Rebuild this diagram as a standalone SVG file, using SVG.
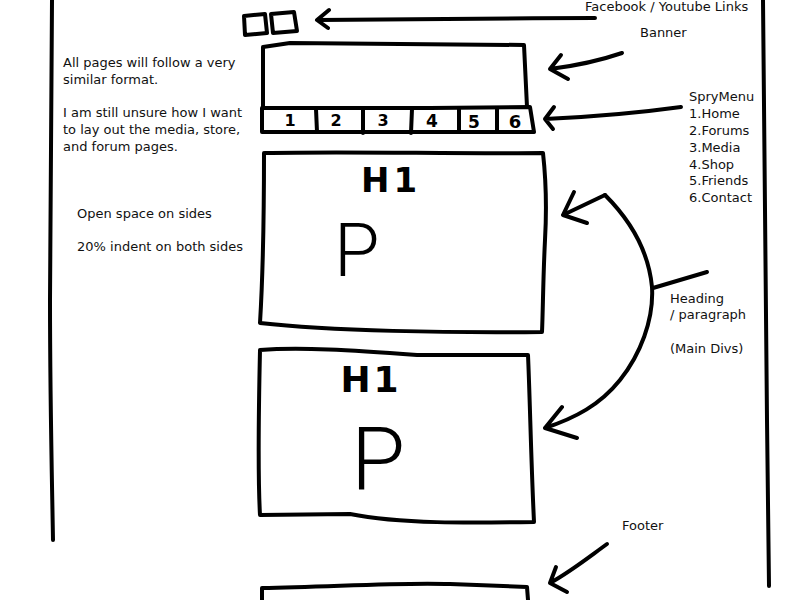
<svg xmlns="http://www.w3.org/2000/svg" width="800" height="600" viewBox="0 0 800 600">
<style>
.s{fill:none;stroke:#000;stroke-width:4;stroke-linecap:round;stroke-linejoin:round}
.t{font-family:"DejaVu Sans","Liberation Sans",sans-serif;font-size:13px;fill:#111}
.h{font-family:"DejaVu Sans","Liberation Sans",sans-serif;font-weight:bold;fill:#000}
.p{font-family:Roboto,"Liberation Sans",sans-serif;font-weight:300;fill:#000}
</style>
<rect width="800" height="600" fill="#fff"/>
<g id="page-edges">
<path class="s" d="M52,0 C51,100 50,200 50,300 C50,400 52,480 53,540"/>
<path class="s" d="M763,0 C764,150 766,300 767,420 C768,500 769,550 769,586"/>
</g>
<g id="social-icons">
<path class="s" d="M244,16 L265,14 L267,33 L245,35 Z"/>
<path class="s" d="M271,14 L294,12 L297,31 L273,33 Z"/>
</g>
<g id="banner">
<path class="s" d="M263,108 L263,47 L290,43 L524,45 L527,107"/>
</g>
<g id="menu">
<path class="s" d="M262,108 L430,108 L530,107 L534,132 L262,132 Z"/>
<path class="s" d="M316,109 L317,132 M363,108 L363,133 M412,109 L411,133 M459,108 L459,132 M497,108 L497,132"/>
<text class="h" font-size="16" x="290" y="126" text-anchor="middle">1</text>
<text class="h" font-size="16" x="336" y="126" text-anchor="middle">2</text>
<text class="h" font-size="16" x="383" y="126" text-anchor="middle">3</text>
<text class="h" font-size="17" x="432" y="127" text-anchor="middle">4</text>
<text class="h" font-size="17" x="474" y="128" text-anchor="middle">5</text>
<text class="h" font-size="18" x="515" y="128" text-anchor="middle">6</text>
</g>
<g id="main-div-1">
<path class="s" d="M265,153 C350,151 450,154 543,153 C546,180 547,205 545,240 C543,280 543,310 542,332 C450,333 330,331 260,323 C262,290 264,250 264,153"/>
<text class="h" font-size="34" x="391" y="192" text-anchor="middle" letter-spacing="4">H1</text>
<text class="p" font-size="74" x="334" y="276">P</text>
</g>
<g id="main-div-2">
<path class="s" d="M260,350 C300,347 350,350 417,355 L528,355 C530,400 531,460 534,522 C470,523 400,524 350,514 L260,515 C258,480 258,440 260,350"/>
<text class="h" font-size="36" x="371" y="392" text-anchor="middle" letter-spacing="3">H1</text>
<text class="p" font-size="88" x="351" y="489">P</text>
</g>
<g id="footer">
<path class="s" d="M262,600 L262,588 C330,587 400,582 450,584 L527,587 L528,600"/>
</g>
<g id="connectors">
<path class="s" d="M595,18 C500,18 400,20 318,20 M329,10 L317,20 L328,28"/>
<path class="s" d="M622,53 Q590,64 550,69 M561,55 L550,69 L568,79"/>
<path class="s" d="M681,107 C630,114 590,117 545,119 M554,107 L545,119 L553,129"/>
<path class="s" d="M605,195 L563,215 M574,192 L563,215 L587,223"/>
<path class="s" d="M605,195 C625,215 648,245 652,287 C654,320 640,355 620,380 C600,405 575,418 545,428 M562,407 L545,428 L577,438"/>
<path class="s" d="M653,288 L707,272"/>
<path class="s" d="M607,544 C585,560 570,572 550,583 M556,567 L550,583 L567,592"/>
</g>
<g id="notes">
<text class="t" x="585" y="11">Facebook / Youtube Links</text>
<text class="t" x="640" y="37">Banner</text>
<text class="t" x="689" y="101">SpryMenu</text>
<text class="t" x="689" y="118">1.Home</text>
<text class="t" x="689" y="135">2.Forums</text>
<text class="t" x="689" y="152">3.Media</text>
<text class="t" x="689" y="169">4.Shop</text>
<text class="t" x="689" y="185">5.Friends</text>
<text class="t" x="689" y="202">6.Contact</text>
<text class="t" x="670" y="303">Heading</text>
<text class="t" x="670" y="319">/ paragraph</text>
<text class="t" x="670" y="353">(Main Divs)</text>
<text class="t" x="622" y="530">Footer</text>
<text class="t" x="63" y="67">All pages will follow a very</text>
<text class="t" x="63" y="84">similar format.</text>
<text class="t" x="63" y="117">I am still unsure how I want</text>
<text class="t" x="63" y="134">to lay out the media, store,</text>
<text class="t" x="63" y="151">and forum pages.</text>
<text class="t" x="77" y="218">Open space on sides</text>
<text class="t" x="77" y="251">20% indent on both sides</text>
</g>
</svg>
